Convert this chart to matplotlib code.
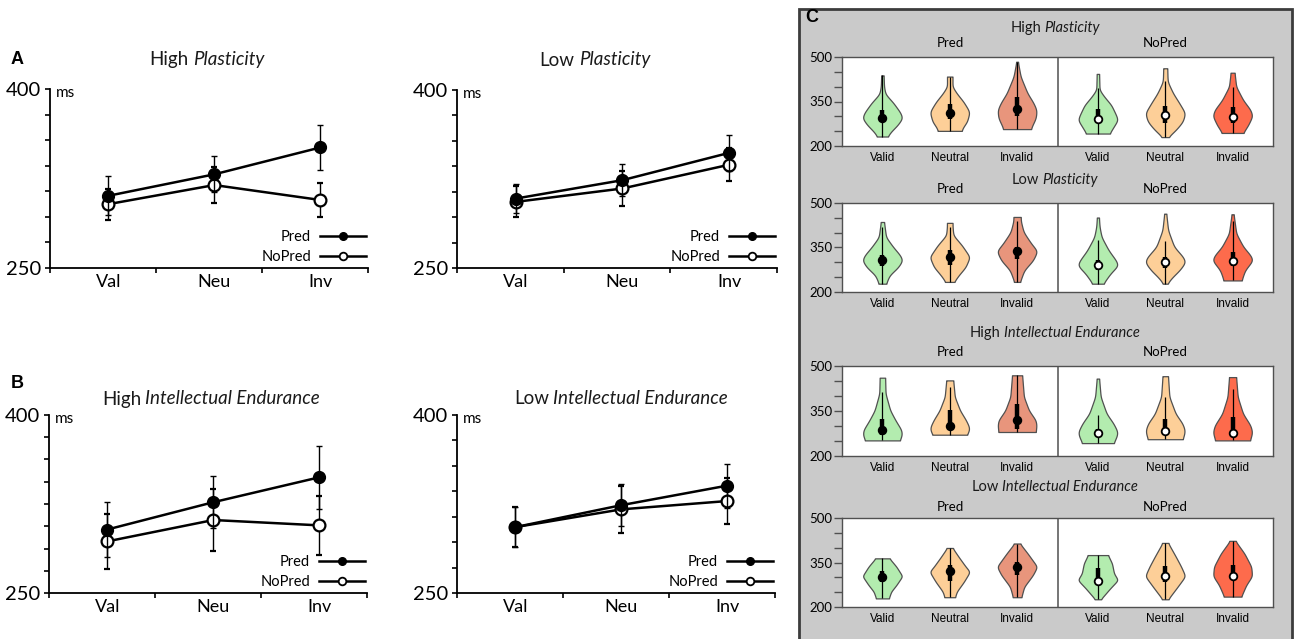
import numpy as np
import matplotlib
matplotlib.use('Agg')
import matplotlib.pyplot as plt
from matplotlib.patches import Rectangle
from matplotlib.lines import Line2D
from matplotlib.offsetbox import TextArea, HPacker, AnchoredOffsetbox

# ---------------- data: line panels (A, B) ----------------
conds_short = ['Val', 'Neu', 'Inv']

hp_pred = [310.5, 328.5, 351.0]
hp_pred_err = [16.5, 15.0, 18.5]
hp_nopred = [303.5, 319.5, 307.0]
hp_nopred_err = [13.0, 15.0, 14.5]

lp_pred = [308.5, 324.0, 347.0]
lp_pred_err = [12.0, 13.5, 15.5]
lp_nopred = [305.7, 317.0, 337.0]
lp_nopred_err = [13.0, 14.5, 14.0]

hie_pred = [303.5, 326.5, 347.5]
hie_pred_err = [23.0, 22.0, 26.5]
hie_nopred = [293.5, 311.5, 307.0]
hie_nopred_err = [23.0, 26.0, 25.0]

lie_pred = [305.5, 324.0, 340.5]
lie_pred_err = [17.0, 17.5, 18.5]
lie_nopred = [305.5, 320.5, 327.5]
lie_nopred_err = [17.0, 20.0, 19.5]

# ---------------- data: violin panels (C) ----------------
conds_long = ['Valid', 'Neutral', 'Invalid'] * 2
groups = ['Pred', 'NoPred']

# each violin: outline levels (ms) and relative half-widths; order Pred V/N/I, NoPred V/N/I
hp_ys = [[232, 250, 270, 294, 312, 345, 375, 400, 438],
         [251, 262, 282, 311, 321, 349, 378, 400, 434],
         [257, 271, 294, 321, 345, 378, 434, 484],
         [242, 265, 288, 304, 338, 366, 389, 443],
         [230, 254, 282, 311, 345, 378, 417, 462],
         [244, 271, 301, 321, 355, 400, 447]]
hp_ws = [[0.25, 0.45, 0.75, 1.0, 0.9, 0.55, 0.15, 0.08, 0.06],
         [0.6, 0.67, 0.88, 1.0, 0.96, 0.7, 0.35, 0.14, 0.14],
         [0.7, 0.79, 0.96, 1.0, 0.84, 0.53, 0.18, 0.04],
         [0.58, 0.79, 1.0, 0.91, 0.67, 0.32, 0.08, 0.06],
         [0.14, 0.53, 0.88, 1.0, 0.7, 0.39, 0.12, 0.1],
         [0.53, 0.79, 1.0, 0.91, 0.53, 0.18, 0.1]]
hp_med = [294, 312, 324, 290, 305, 299]
hp_q1 = [282, 290, 300, 278, 278, 278]
hp_q3 = [322, 343, 366, 325, 334, 330]
hp_wlo = [232, 251, 257, 242, 230, 244]
hp_whi = [438, 434, 484, 394, 420, 400]

lp_ys = [[228, 256, 284, 307, 324, 352, 385, 436],
         [234, 256, 284, 318, 357, 391, 420, 433],
         [234, 273, 307, 338, 363, 402, 440, 453],
         [228, 262, 290, 307, 340, 385, 420, 451],
         [228, 250, 273, 301, 318, 352, 408, 464],
         [239, 273, 307, 324, 352, 397, 462]]
lp_ws = [[0.18, 0.35, 0.79, 1.0, 0.88, 0.53, 0.18, 0.08],
         [0.21, 0.44, 0.79, 1.0, 0.61, 0.18, 0.14, 0.14],
         [0.14, 0.35, 0.79, 1.0, 0.7, 0.32, 0.18, 0.18],
         [0.26, 0.61, 1.0, 0.88, 0.53, 0.18, 0.08, 0.05],
         [0.09, 0.35, 0.7, 1.0, 0.88, 0.44, 0.14, 0.05],
         [0.44, 0.61, 1.0, 0.88, 0.53, 0.18, 0.05]]
lp_med = [307, 318, 338, 292, 301, 306]
lp_q1 = [287, 290, 312, 275, 282, 286]
lp_q3 = [324, 340, 352, 309, 318, 335]
lp_wlo = [228, 234, 234, 228, 228, 239]
lp_whi = [420, 420, 440, 374, 372, 440]

hie_ys = [[252, 269, 286, 319, 352, 408, 461],
          [271, 285, 297, 319, 352, 397, 452],
          [280, 302, 319, 352, 397, 469],
          [243, 265, 280, 308, 341, 397, 458],
          [256, 270, 286, 308, 341, 397, 466],
          [252, 268, 280, 302, 341, 397, 463]]
hie_ws = [[0.88, 1.0, 0.98, 0.67, 0.4, 0.16, 0.14],
          [0.88, 1.0, 1.0, 0.84, 0.53, 0.26, 0.18],
          [0.96, 1.0, 0.96, 0.61, 0.35, 0.26],
          [0.79, 0.95, 1.0, 0.79, 0.44, 0.14, 0.06],
          [0.88, 0.96, 1.0, 0.88, 0.53, 0.21, 0.14],
          [0.88, 0.96, 1.0, 0.91, 0.53, 0.26, 0.18]]
hie_med = [288, 299, 319, 277, 282, 277]
hie_q1 = [269, 288, 291, 273, 275, 272]
hie_q3 = [322, 352, 374, 291, 322, 330]
hie_wlo = [252, 271, 280, 243, 256, 252]
hie_whi = [413, 430, 469, 336, 397, 424]

lie_ys = [[229, 252, 274, 304, 336, 364],
          [233, 252, 285, 319, 336, 369, 399],
          [233, 268, 308, 336, 347, 380, 414],
          [226, 263, 291, 313, 347, 375],
          [226, 268, 304, 336, 369, 416],
          [235, 274, 304, 336, 380, 423]]
lie_ws = [[0.32, 0.44, 0.7, 1.0, 0.7, 0.35],
          [0.26, 0.35, 0.7, 1.0, 0.79, 0.44, 0.14],
          [0.21, 0.35, 0.79, 1.0, 0.88, 0.53, 0.14],
          [0.14, 0.61, 1.0, 0.8, 0.7, 0.5],
          [0.14, 0.61, 1.0, 0.79, 0.53, 0.14],
          [0.44, 0.7, 1.0, 0.96, 0.61, 0.14]]
lie_med = [302, 322, 336, 288, 306, 304]
lie_q1 = [283, 289, 308, 285, 285, 291]
lie_q3 = [321, 343, 352, 332, 338, 343]
lie_wlo = [229, 233, 233, 226, 226, 235]
lie_whi = [364, 399, 414, 375, 416, 423]

# ---------------- styling ----------------
W, H = 1295, 639
FONT = ['Lato', 'DejaVu Sans']
ARIAL = ['Liberation Sans', 'DejaVu Sans']
plt.rcParams['font.family'] = FONT

fig = plt.figure(figsize=(W / 100, H / 100), dpi=100)
fig.patch.set_facecolor('white')


def px_axes(x0, y0, x1, y1):
    return fig.add_axes([x0 / W, 1 - y1 / H, (x1 - x0) / W, (y1 - y0) / H])


def mixed_text(x, y, parts, size, sep):
    boxes = [TextArea(t, textprops=dict(fontsize=size, fontstyle=st, family=FONT, color='#1a1a1a'))
             for t, st in parts]
    pack = HPacker(children=boxes, align='baseline', pad=0, sep=sep)
    ab = AnchoredOffsetbox(loc='center', child=pack, bbox_to_anchor=(x / W, 1 - y / H),
                           bbox_transform=fig.transFigure, frameon=False, pad=0, borderpad=0)
    fig.add_artist(ab)


cat_x = np.arange(3) + 0.55


def line_panel(box, title_parts, title_xy, pred, pred_err, nopred, nopred_err, nticks):
    ax = px_axes(*box)
    ax.set_xlim(0, 3)
    ax.set_ylim(250, 400)
    ax.errorbar(cat_x, nopred, yerr=nopred_err, color='black', lw=1.8, marker='o', ms=8.5,
                mfc='white', mec='black', mew=1.6, capsize=2, elinewidth=1, capthick=1, zorder=3)
    ax.errorbar(cat_x, pred, yerr=pred_err, color='black', lw=1.8, marker='o', ms=8.5,
                mfc='black', mec='black', capsize=2, elinewidth=1, capthick=1, zorder=4)
    for s in ['top', 'right']:
        ax.spines[s].set_visible(False)
    for s in ['left', 'bottom']:
        ax.spines[s].set_linewidth(1.3)
    yt = np.linspace(250, 400, nticks)
    ax.set_yticks(yt)
    ax.set_yticklabels(['250'] + [''] * (nticks - 2) + ['400'], fontsize=14.5)
    ax.tick_params(axis='y', length=3.5, width=1.2, pad=3, direction='out')
    ax.set_xticks([0, 1, 2, 3])
    ax.set_xticklabels([])
    ax.tick_params(axis='x', which='major', length=3.5, width=1.2, direction='out')
    ax.set_xticks(cat_x, conds_short, minor=True)
    ax.tick_params(axis='x', which='minor', length=0, pad=4, labelsize=13)
    ax.text(0.018, 396.5, 'ms', transform=ax.get_yaxis_transform(), fontsize=11,
            va='center', ha='left')
    handles = [Line2D([], [], color='black', lw=1.8, marker='o', ms=5.5, mfc='black', mec='black'),
               Line2D([], [], color='black', lw=1.8, marker='o', ms=5.5, mfc='white', mec='black', mew=1.3)]
    ax.legend(handles, ['Pred', 'NoPred'], loc='lower right', bbox_to_anchor=(0.995, 0.02),
              frameon=False, markerfirst=False, handlelength=3.2, handletextpad=0.6,
              labelspacing=0.42, fontsize=10.5, borderpad=0, borderaxespad=0)
    mixed_text(title_xy[0], title_xy[1], title_parts, 13.5, 3)
    return ax


line_panel((50, 89, 368, 268), [('High', 'normal'), ('Plasticity', 'italic')], (207, 60),
           hp_pred, hp_pred_err, hp_nopred, hp_nopred_err, 8)
line_panel((457, 90, 777, 268), [('Low', 'normal'), ('Plasticity', 'italic')], (595, 60),
           lp_pred, lp_pred_err, lp_nopred, lp_nopred_err, 8)
line_panel((49, 415, 367, 593), [('High', 'normal'), ('Intellectual Endurance', 'italic')], (211, 399),
           hie_pred, hie_pred_err, hie_nopred, hie_nopred_err, 9)
line_panel((457, 415, 775, 593), [('Low', 'normal'), ('Intellectual Endurance', 'italic')], (621, 399),
           lie_pred, lie_pred_err, lie_nopred, lie_nopred_err, 8)

for lab, (x, y) in zip(['A', 'B', 'C'], [(17, 60), (17, 383), (812, 17)]):
    fig.text(x / W, 1 - y / H, lab, fontsize=13, fontweight='bold', family=ARIAL,
             ha='center', va='center')

# ---------------- panel C ----------------
bg = Rectangle((799 / W, -0.05), (1292 - 799) / W, 1.05 - 9 / H, transform=fig.transFigure,
               facecolor='#cacaca', edgecolor='#3c3c3c', lw=2, zorder=0)
fig.add_artist(bg)

vpos = [0.6, 1.6, 2.6, 3.8, 4.8, 5.8]
v_colors = ['#b3ecaf', '#fdcf98', '#e8957c', '#b3ecaf', '#fdcf98', '#fd6b4c']
med_fc = ['black'] * 3 + ['white'] * 3


def smooth_profile(ys, ws, n=140):
    ys = np.asarray(ys, float)
    ws = np.asarray(ws, float)
    fy = np.linspace(ys[0], ys[-1], n)
    fw = np.interp(fy, ys, ws)
    k = np.exp(-0.5 * (np.arange(-12, 13) / 5.0) ** 2)
    k /= k.sum()
    fw2 = np.convolve(np.pad(fw, 12, mode='edge'), k, mode='valid')
    return fy, fw2


def violin_row(top, bottom, title_parts, title_y, sub_y, ys, ws, med, q1, q3, wlo, whi):
    ax = px_axes(842, top, 1273, bottom)
    ax.set_zorder(2)
    ax.set_facecolor('white')
    ax.set_xlim(0, 6.4)
    ax.set_ylim(200, 500)
    stats = []
    for i in range(6):
        cy, cw = smooth_profile(ys[i], ws[i])
        stats.append(dict(coords=cy, vals=cw, mean=med[i], median=med[i],
                          min=ys[i][0], max=ys[i][-1]))
    parts = ax.violin(stats, positions=vpos, widths=0.57, showmeans=False,
                      showextrema=False, showmedians=False)
    for body, c in zip(parts['bodies'], v_colors):
        body.set_facecolor(c)
        body.set_edgecolor('#505050')
        body.set_linewidth(0.9)
        body.set_alpha(1)
    ax.vlines(vpos, wlo, whi, color='black', lw=0.9, zorder=3)
    ax.vlines(vpos, q1, q3, color='black', lw=3.2, zorder=3)
    for p, m, fc in zip(vpos, med, med_fc):
        ax.plot([p], [m], marker='o', ms=5.5, mfc=fc, mec='black', mew=1.3, zorder=4)
    ax.axvline(3.2, color='#505050', lw=1.1)
    for s in ax.spines.values():
        s.set_color('#505050')
        s.set_linewidth(1.0)
    ax.set_yticks(np.arange(200, 501, 50))
    ax.set_yticklabels(['200', '', '', '350', '', '', '500'], fontsize=9.5)
    ax.tick_params(axis='y', length=6, width=1, color='#505050', pad=1)
    ax.set_xticks(vpos, conds_long)
    ax.tick_params(axis='x', length=0, pad=4)
    for t in ax.get_xticklabels():
        t.set_fontfamily(ARIAL)
        t.set_fontsize(8.5)
    mixed_text(1055, title_y, title_parts, 10.5, 2.5)
    for gx, g in zip([950, 1165], groups):
        fig.text(gx / W, 1 - sub_y / H, g, fontsize=9.5, ha='center', va='center')


violin_row(57, 146, [('High', 'normal'), ('Plasticity', 'italic')], 28, 43,
           hp_ys, hp_ws, hp_med, hp_q1, hp_q3, hp_wlo, hp_whi)
violin_row(203, 292, [('Low', 'normal'), ('Plasticity', 'italic')], 180, 189,
           lp_ys, lp_ws, lp_med, lp_q1, lp_q3, lp_wlo, lp_whi)
violin_row(366, 456, [('High', 'normal'), ('Intellectual Endurance', 'italic')], 333, 352,
           hie_ys, hie_ws, hie_med, hie_q1, hie_q3, hie_wlo, hie_whi)
violin_row(518, 607, [('Low', 'normal'), ('Intellectual Endurance', 'italic')], 487, 507,
           lie_ys, lie_ws, lie_med, lie_q1, lie_q3, lie_wlo, lie_whi)

fig.savefig('out.png', dpi=100, facecolor='white')
